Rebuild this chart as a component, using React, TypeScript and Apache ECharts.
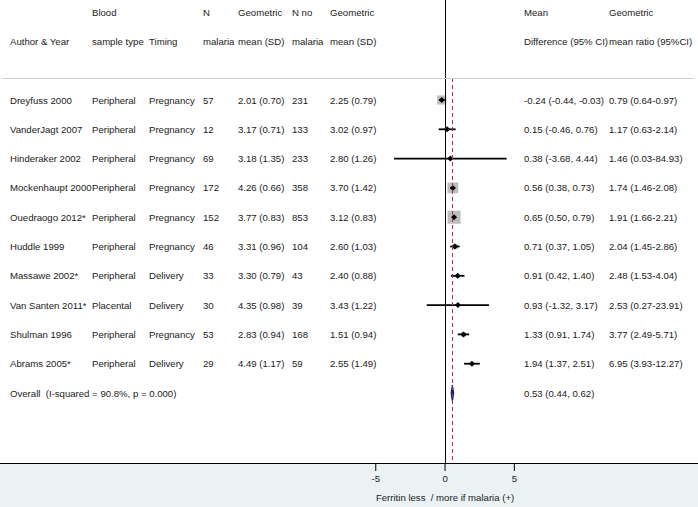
import React, { useEffect, useRef } from "react";
import * as echarts from "echarts";

// ---- data ----
const authors = [
  "Dreyfuss 2000", "VanderJagt 2007", "Hinderaker 2002", "Mockenhaupt 2000", "Ouedraogo 2012*",
  "Huddle 1999", "Massawe 2002*", "Van Santen 2011*", "Shulman 1996", "Abrams 2005*",
];
const sampleTypes = [
  "Peripheral", "Peripheral", "Peripheral", "Peripheral", "Peripheral",
  "Peripheral", "Peripheral", "Placental", "Peripheral", "Peripheral",
];
const timings = [
  "Pregnancy", "Pregnancy", "Pregnancy", "Pregnancy", "Pregnancy",
  "Pregnancy", "Delivery", "Delivery", "Pregnancy", "Delivery",
];
const nMalaria = [57, 12, 69, 172, 152, 46, 33, 30, 53, 29];
const gmMalaria = [2.01, 3.17, 3.18, 4.26, 3.77, 3.31, 3.30, 4.35, 2.83, 4.49];
const sdMalaria = [0.70, 0.71, 1.35, 0.66, 0.83, 0.96, 0.79, 0.98, 0.94, 1.17];
const nNoMalaria = [231, 133, 233, 358, 853, 104, 43, 39, 168, 59];
const gmNoMalaria = [2.25, 3.02, 2.80, 3.70, 3.12, 2.60, 2.40, 3.43, 1.51, 2.55];
const sdNoMalaria = [0.79, 0.97, 1.26, 1.42, 0.83, 1.03, 0.88, 1.22, 0.94, 1.49];
const meanDiff = [-0.24, 0.15, 0.38, 0.56, 0.65, 0.71, 0.91, 0.93, 1.33, 1.94];
const meanDiffLo = [-0.44, -0.46, -3.68, 0.38, 0.50, 0.37, 0.42, -1.32, 0.91, 1.37];
const meanDiffHi = [-0.03, 0.76, 4.44, 0.73, 0.79, 1.05, 1.40, 3.17, 1.74, 2.51];
const gmRatio = [0.79, 1.17, 1.46, 1.74, 1.91, 2.04, 2.48, 2.53, 3.77, 6.95];
const gmRatioLo = [0.64, 0.63, 0.03, 1.46, 1.66, 1.45, 1.53, 0.27, 2.49, 3.93];
const gmRatioHi = [0.97, 2.14, 84.93, 2.08, 2.21, 2.86, 4.04, 23.91, 5.71, 12.27];
// study weights (%)
const weights = [18.4, 2.1, 0.05, 25.5, 37.0, 6.7, 3.2, 0.15, 4.5, 2.4];
const overall = { est: 0.53, lo: 0.44, hi: 0.62 };
const overallLabel = "Overall\u00a0 (I-squared = 90.8%, p = 0.000)";
const xTicks = [-5, 0, 5];
const xTitle = "Ferritin less \u00a0/ more if malaria (+)";

const headerTop = ["", "Blood", "", "N", "Geometric", "N no", "Geometric", "Mean", "Geometric"];
const headerBottom = [
  "Author & Year", "sample type", "Timing", "malaria", "mean (SD)", "malaria", "mean (SD)",
  "Difference (95% CI)", "mean ratio (95%CI)",
];

const FONT = '"Liberation Sans", Arial, sans-serif';
const FS = 9.6;
const TEXT = "#1a1a1a";
const colX = [10, 92, 149, 203, 238, 292, 330, 524, 609];

const f2 = (v: number) => v.toFixed(2);

export default function App() {
  const ref = useRef<HTMLDivElement>(null);
  useEffect(() => {
    document.body.style.margin = "0";
    if (!ref.current) return;
    const chart = echarts.init(ref.current, undefined, { renderer: "svg" });

    const tableRows: string[][] = authors.map((a, i) => [
      a,
      sampleTypes[i],
      timings[i],
      String(nMalaria[i]),
      `${f2(gmMalaria[i])} (${f2(sdMalaria[i])})`,
      String(nNoMalaria[i]),
      `${f2(gmNoMalaria[i])} (${f2(sdNoMalaria[i])})`,
      `${f2(meanDiff[i])} (${f2(meanDiffLo[i])}, ${f2(meanDiffHi[i])})`,
      `${f2(gmRatio[i])} (${f2(gmRatioLo[i])}-${f2(gmRatioHi[i])})`,
    ]);
    const allRows: { row: number; cells: string[] }[] = [
      { row: -3, cells: headerTop },
      { row: -2, cells: headerBottom },
      ...tableRows.map((c, i) => ({ row: i, cells: c })),
      {
        row: authors.length,
        cells: [overallLabel, "", "", "", "", "", "", `${f2(overall.est)} (${f2(overall.lo)}, ${f2(overall.hi)})`, ""],
      },
    ];

    const studyData = authors.map((_, i) => [i, meanDiff[i], meanDiffLo[i], meanDiffHi[i], weights[i]]);

    const yMin = -3.413;
    const yMax = 12.389;
    const sepRow = -0.75;
    const xMin = -32.11;
    const xMax = 18.25;

    chart.setOption({
      animation: false,
      grid: { left: 0, right: 0, top: 0, bottom: 44 },
      xAxis: {
        type: "value",
        min: xMin,
        max: xMax,
        splitLine: { show: false },
        axisLine: { show: true, onZero: false, lineStyle: { color: "#000", width: 1 } },
        axisTick: { show: false },
        axisLabel: { customValues: xTicks, fontSize: FS, fontFamily: FONT, color: TEXT, margin: 10 },
      },
      yAxis: {
        type: "value",
        inverse: true,
        min: yMin,
        max: yMax,
        show: false,
        axisLine: { onZero: false },
        splitLine: { show: false },
      },
      series: [
        {
          type: "custom",
          name: "lines",
          data: [],
          renderItem: () => null,
          markLine: {
            silent: true,
            symbol: "none",
            label: { show: false },
            data: [
              [
                { coord: [0, yMin], lineStyle: { color: "#000", width: 1, type: "solid" } },
                { coord: [0, yMax] },
              ],
              [
                { coord: [overall.est, sepRow], lineStyle: { color: "#a3333d", width: 1, type: [4, 3] } },
                { coord: [overall.est, yMax] },
              ],
              [
                { coord: [-31.96, sepRow], lineStyle: { color: "#cfcfcf", width: 1, type: "solid" } },
                { coord: [17.97, sepRow] },
              ],
            ],
          },
        },
        {
          type: "custom",
          name: "studies",
          data: studyData,
          encode: { x: [1, 2, 3], y: 0 },
          renderItem: (params: any, api: any) => {
            const row = api.value(0);
            const est = api.value(1);
            const lo = api.value(2);
            const hi = api.value(3);
            const w = api.value(4);
            const [px, py] = api.coord([est, row]);
            const pl = api.coord([lo, row])[0];
            const ph = api.coord([hi, row])[0];
            const s = 2.14 * Math.sqrt(w);
            return {
              type: "group",
              children: [
                { type: "rect", shape: { x: px - s / 2, y: py - s / 2, width: s, height: s }, style: { fill: "#bdbdbd" } },
                { type: "line", shape: { x1: pl, y1: py, x2: ph, y2: py }, style: { stroke: "#000", lineWidth: 1.8 } },
                {
                  type: "polygon",
                  shape: { points: [[px, py - 3], [px + 3, py], [px, py + 3], [px - 3, py]] },
                  style: { fill: "#000" },
                },
              ],
            };
          },
        },
        {
          type: "custom",
          name: "overall",
          data: [[authors.length, overall.est, overall.lo, overall.hi]],
          encode: { x: [1, 2, 3], y: 0 },
          renderItem: (params: any, api: any) => {
            const row = api.value(0);
            const [pe, py] = api.coord([api.value(1), row]);
            const pl = api.coord([api.value(2), row])[0];
            const ph = api.coord([api.value(3), row])[0];
            return {
              type: "polygon",
              shape: { points: [[pl, py], [pe, py - 8], [ph, py], [pe, py + 8]] },
              style: { fill: "#1c1c78", stroke: "#1c1c78", lineWidth: 1.2 },
            };
          },
        },
        {
          type: "custom",
          name: "table",
          data: allRows.map((r) => [0, r.row]),
          encode: { x: 0, y: 1 },
          renderItem: (params: any, api: any) => {
            const r = allRows[params.dataIndex];
            const py = api.coord([0, r.row])[1];
            return {
              type: "group",
              children: r.cells
                .map((t, c) => ({ t, c }))
                .filter((o) => o.t !== "")
                .map((o) => ({
                  type: "text",
                  x: colX[o.c],
                  y: py,
                  style: {
                    text: o.t,
                    fill: TEXT,
                    font: `${FS}px ${FONT}`,
                    textAlign: "left",
                    textVerticalAlign: "middle",
                  },
                })),
            };
          },
        },
        {
          // x-axis tick marks and the axis title, positioned through the axis scale
          type: "custom",
          name: "ticks",
          data: xTicks.map((v) => [v, yMax]),
          encode: { x: 0, y: 1 },
          clip: false,
          z: 10,
          renderItem: (params: any, api: any) => {
            const [px, py] = api.coord([api.value(0), api.value(1)]);
            const children: any[] = [
              { type: "line", shape: { x1: px, y1: py, x2: px, y2: py + 8 }, style: { stroke: "#000", lineWidth: 1 } },
            ];
            if (api.value(0) === 0) {
              children.push({
                type: "text",
                x: px,
                y: py + 34,
                style: {
                  text: xTitle,
                  fill: TEXT,
                  font: `${FS}px ${FONT}`,
                  textAlign: "center",
                  textVerticalAlign: "middle",
                },
              });
            }
            return { type: "group", children };
          },
        },
      ],
      graphic: [
        { type: "rect", z: -10, shape: { x: 0, y: 463, width: 698, height: 44 }, style: { fill: "#eaf2f3" } },
      ],
    });
    return () => chart.dispose();
  }, []);
  return <div ref={ref} style={{ width: 698, height: 507 }} />;
}
